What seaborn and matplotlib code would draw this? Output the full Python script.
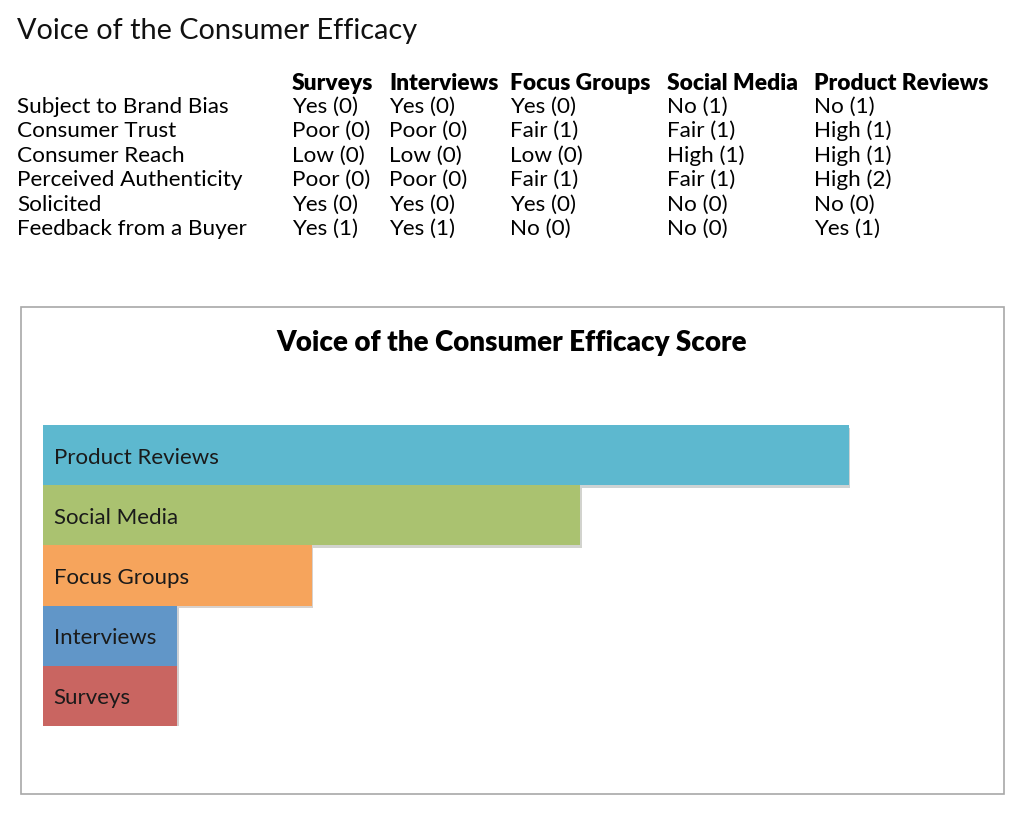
import matplotlib
matplotlib.use('Agg')
import matplotlib.pyplot as plt
import matplotlib.patheffects as pe
from matplotlib.patches import Rectangle
import pandas as pd
import seaborn as sns

# data
methods = ['Surveys', 'Interviews', 'Focus Groups', 'Social Media', 'Product Reviews']
criteria = ['Subject to Brand Bias', 'Consumer Trust', 'Consumer Reach',
            'Perceived Authenticity', 'Solicited', 'Feedback from a Buyer']
surveys = ['Yes (0)', 'Poor (0)', 'Low (0)', 'Poor (0)', 'Yes (0)', 'Yes (1)']
interviews = ['Yes (0)', 'Poor (0)', 'Low (0)', 'Poor (0)', 'Yes (0)', 'Yes (1)']
focus_groups = ['Yes (0)', 'Fair (1)', 'Low (0)', 'Fair (1)', 'Yes (0)', 'No (0)']
social_media = ['No (1)', 'Fair (1)', 'High (1)', 'Fair (1)', 'No (0)', 'No (0)']
product_reviews = ['No (1)', 'High (1)', 'High (1)', 'High (2)', 'No (0)', 'Yes (1)']
scores = [1, 1, 2, 4, 6]
colors = ['#c96561', '#6196c8', '#f6a45c', '#aac270', '#5db8cf']

W, H = 1024, 815
plt.rcParams['font.family'] = ['Lato', 'DejaVu Sans']

fig = plt.figure(figsize=(W / 100, H / 100), dpi=100)

def px(x, y):
    return x / W, 1 - y / H

# page title
fig.text(*px(17, 31), 'Voice of the Consumer Efficacy', fontsize=20.8,
         va='center', ha='left', color='#111111')

# table
col_x = [292, 389, 510, 667, 814]
row_y = [107, 131, 156, 180, 205, 229]
for m, cx in zip(methods, col_x):
    fig.text(*px(cx, 83), m, fontsize=16.4, fontweight='heavy', va='center')
columns = [surveys, interviews, focus_groups, social_media, product_reviews]
for i, (c, ry) in enumerate(zip(criteria, row_y)):
    fig.text(*px(17, ry), c, fontsize=16.2, va='center')
    for col, cx in zip(columns, col_x):
        fig.text(*px(cx, ry), col[i], fontsize=16.2, va='center')

# box around the chart
fig.add_artist(Rectangle(px(21, 794), (1004 - 21) / W, (794 - 307) / H,
                         transform=fig.transFigure, fill=False,
                         ec='#a8a8a8', lw=1.2))
fig.text(*px(512, 343), 'Voice of the Consumer Efficacy Score', fontsize=20,
         fontweight='heavy', ha='center', va='center')

# bar chart
df = pd.DataFrame({'method': methods, 'score': scores})[::-1]
palette = dict(zip(methods, colors))
x0, x1 = 43, 43 + 7 * 134.3
y0, y1 = 425, 726
ax = fig.add_axes([x0 / W, 1 - y1 / H, (x1 - x0) / W, (y1 - y0) / H])
sns.barplot(data=df, x='score', y='method', hue='method', palette=palette,
            order=df['method'], width=1.0, saturation=1, legend=False, ax=ax)
for p in ax.patches:
    p.set_linewidth(0)
    p.set_edgecolor('none')
    p.set_path_effects([pe.SimplePatchShadow(offset=(1.2, -2), alpha=0.22),
                        pe.Normal()])
for i, m in enumerate(df['method']):
    ax.text(0.08, i + 0.04, m, va='center', ha='left', fontsize=16,
            color='#1a1a1a')
ax.set_xlim(0, 7)
ax.set_ylim(4.5, -0.5)
ax.axis('off')

fig.savefig('out.png', dpi=100, facecolor='white')
